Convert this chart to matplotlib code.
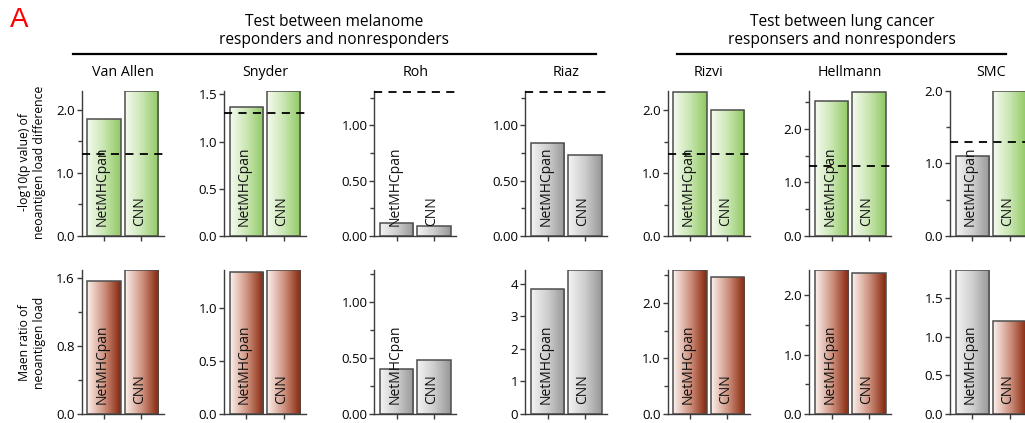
import numpy as np
import matplotlib
matplotlib.use("Agg")
import matplotlib.pyplot as plt
from matplotlib.colors import LinearSegmentedColormap
from matplotlib.lines import Line2D
from matplotlib.ticker import FixedLocator, FormatStrFormatter
import matplotlib.transforms as mtransforms

plt.rcParams['font.family'] = ['Open Sans', 'DejaVu Sans']

cohorts = ["Van Allen", "Snyder", "Roh", "Riaz", "Rizvi", "Hellmann", "SMC"]
methods = ["NetMHCpan", "CNN"]

# -log10(p value) of the neoantigen load difference (responders vs nonresponders)
neglog_p_netmhcpan = [1.86, 1.37, 0.12, 0.84, 2.30, 2.52, 1.10]
neglog_p_cnn = [2.30, 1.53, 0.09, 0.73, 2.00, 2.70, 2.00]
significance_level = 1.3  # -log10(0.05)

# mean ratio of neoantigen load (responders / nonresponders)
ratio_netmhcpan = [1.56, 1.34, 0.40, 3.85, 2.60, 2.43, 1.87]
ratio_cnn = [1.70, 1.36, 0.48, 4.44, 2.47, 2.37, 1.20]

# fill scheme per cohort and method: g = green, r = brown, k = grey
top_fill = [["g", "g"], ["g", "g"], ["k", "k"], ["k", "k"], ["g", "g"], ["g", "g"], ["k", "g"]]
bottom_fill = [["r", "r"], ["r", "r"], ["k", "k"], ["k", "k"], ["r", "r"], ["r", "r"], ["k", "r"]]

W, H = 1025, 423
fig = plt.figure(figsize=(W / 100, H / 100), dpi=100)

cmaps = {
    "g": LinearSegmentedColormap.from_list("g", ["#f6fbf0", "#c9e6b2", "#8fc862"]),
    "r": LinearSegmentedColormap.from_list("r", ["#fcf1ed", "#cf9380", "#85250a"]),
    "k": LinearSegmentedColormap.from_list("k", ["#f4f4f4", "#cdcdcd", "#979797"]),
}
gradient = np.linspace(0, 1, 256).reshape(1, -1)

# panel left edges (px) and shared panel width
left_px = [81.7, 224.0, 374.3, 525.3, 667.7, 809.3, 950.0]
panel_w = 82.0
rows = [
    dict(top=91.0, bottom=236.0,
         ymax=[2.30, 1.535, 1.31, 1.31, 2.31, 2.71, 2.0],
         major=[[0, 1, 2], [0, 0.5, 1.0, 1.5], [0, 0.5, 1.0], [0, 0.5, 1.0],
                [0, 1, 2], [0, 1, 2], [0, 1, 2]],
         minor=[[0.5, 1.5], [], [0.25, 0.75, 1.25], [0.25, 0.75, 1.25],
                [0.5, 1.5], [0.5, 1.5, 2.5], [0.5, 1.5]],
         fmt=["%.1f", "%.1f", "%.2f", "%.2f", "%.1f", "%.1f", "%.1f"]),
    dict(top=269.5, bottom=414.0,
         ymax=[1.70, 1.36, 1.29, 4.44, 2.60, 2.43, 1.87],
         major=[[0, 0.8, 1.6], [0, 0.5, 1.0], [0, 0.5, 1.0], [0, 1, 2, 3, 4],
                [0, 1, 2], [0, 1, 2], [0, 0.5, 1.0, 1.5]],
         minor=[[0.4, 1.2], [], [0.25, 0.75, 1.25], [],
                [0.5, 1.5, 2.5], [0.5, 1.5], []],
         fmt=["%.1f", "%.1f", "%.2f", "%d", "%.1f", "%.1f", "%.1f"]),
]
row_values = [
    (neglog_p_netmhcpan, neglog_p_cnn, top_fill),
    (ratio_netmhcpan, ratio_cnn, bottom_fill),
]

spine_col = "#3c3c3c"
x = np.arange(len(methods))

for r, (spec, (v_net, v_cnn, fills)) in enumerate(zip(rows, row_values)):
    for i, name in enumerate(cohorts):
        ax = fig.add_axes([left_px[i] / W, (H - spec["bottom"]) / H,
                           panel_w / W, (spec["bottom"] - spec["top"]) / H])
        vals = [v_net[i], v_cnn[i]]
        bars = ax.bar(x, vals, width=0.9, facecolor="none",
                      edgecolor="#4d4d4d", linewidth=1.1, zorder=3)
        for b, f in zip(bars, fills[i]):
            x0, w, h = b.get_x(), b.get_width(), b.get_height()
            im = ax.imshow(gradient, cmap=cmaps[f], aspect="auto",
                           extent=[x0, x0 + w, 0, h], zorder=2,
                           interpolation="bilinear")
            im.set_clip_path(b)
        ax.set_xlim(-0.6, 1.6)
        ax.set_ylim(0, spec["ymax"][i])
        if r == 0:
            ax.axhline(significance_level, color="black", lw=1.3,
                       dashes=(4.5, 3.5), zorder=4, clip_on=False)

        trans = mtransforms.blended_transform_factory(ax.transData, ax.transAxes)
        for xi, m in zip(x, methods):
            ax.text(xi - 0.05, 0.07, m, rotation=90, ha="center", va="bottom",
                    fontsize=10, transform=trans, zorder=5, color="#111111")

        for s in ["top", "right"]:
            ax.spines[s].set_visible(False)
        for s in ["left", "bottom"]:
            ax.spines[s].set_color(spine_col)
            ax.spines[s].set_linewidth(1.0)
        ax.set_xticks(x)
        ax.set_xticklabels([])
        ax.yaxis.set_major_locator(FixedLocator(spec["major"][i]))
        ax.yaxis.set_minor_locator(FixedLocator(spec["minor"][i]))
        ax.yaxis.set_major_formatter(FormatStrFormatter(spec["fmt"][i]))
        ax.tick_params(axis="both", which="major", direction="out", length=3.5,
                       width=1.0, color=spine_col, labelsize=9.5, pad=1.5)
        ax.tick_params(axis="y", which="minor", direction="out", length=3.0,
                       width=1.0, color=spine_col)

        if r == 0:
            fig.text((left_px[i] + panel_w / 2) / W, 1 - 72 / H, name,
                     ha="center", va="center", fontsize=10.3)


def fy(px):
    return 1 - px / H


fig.text(32 / W, fy(162), "-log10(p value) of\nneoantigen load difference",
         rotation=90, ha="center", va="center", fontsize=8.8,
         multialignment="center", linespacing=1.15)
fig.text(32 / W, fy(343), "Maen ratio of\nneoantigen load",
         rotation=90, ha="center", va="center", fontsize=8.8,
         multialignment="center", linespacing=1.15)

fig.text(334 / W, fy(31), "Test between melanome\nresponders and nonresponders",
         ha="center", va="center", fontsize=11.2, linespacing=1.2)
fig.text(842 / W, fy(31), "Test between lung cancer\nresponsers and nonresponders",
         ha="center", va="center", fontsize=11.2, linespacing=1.2)
fig.add_artist(Line2D([73 / W, 596 / W], [fy(54), fy(54)], color="black", lw=1.6))
fig.add_artist(Line2D([677 / W, 1006 / W], [fy(54), fy(54)], color="black", lw=1.6))

fig.text(10 / W, fy(20), "A", color="red", fontsize=20, ha="left", va="center",
         family=["Liberation Sans", "DejaVu Sans"])

fig.savefig("out.png", dpi=100)
